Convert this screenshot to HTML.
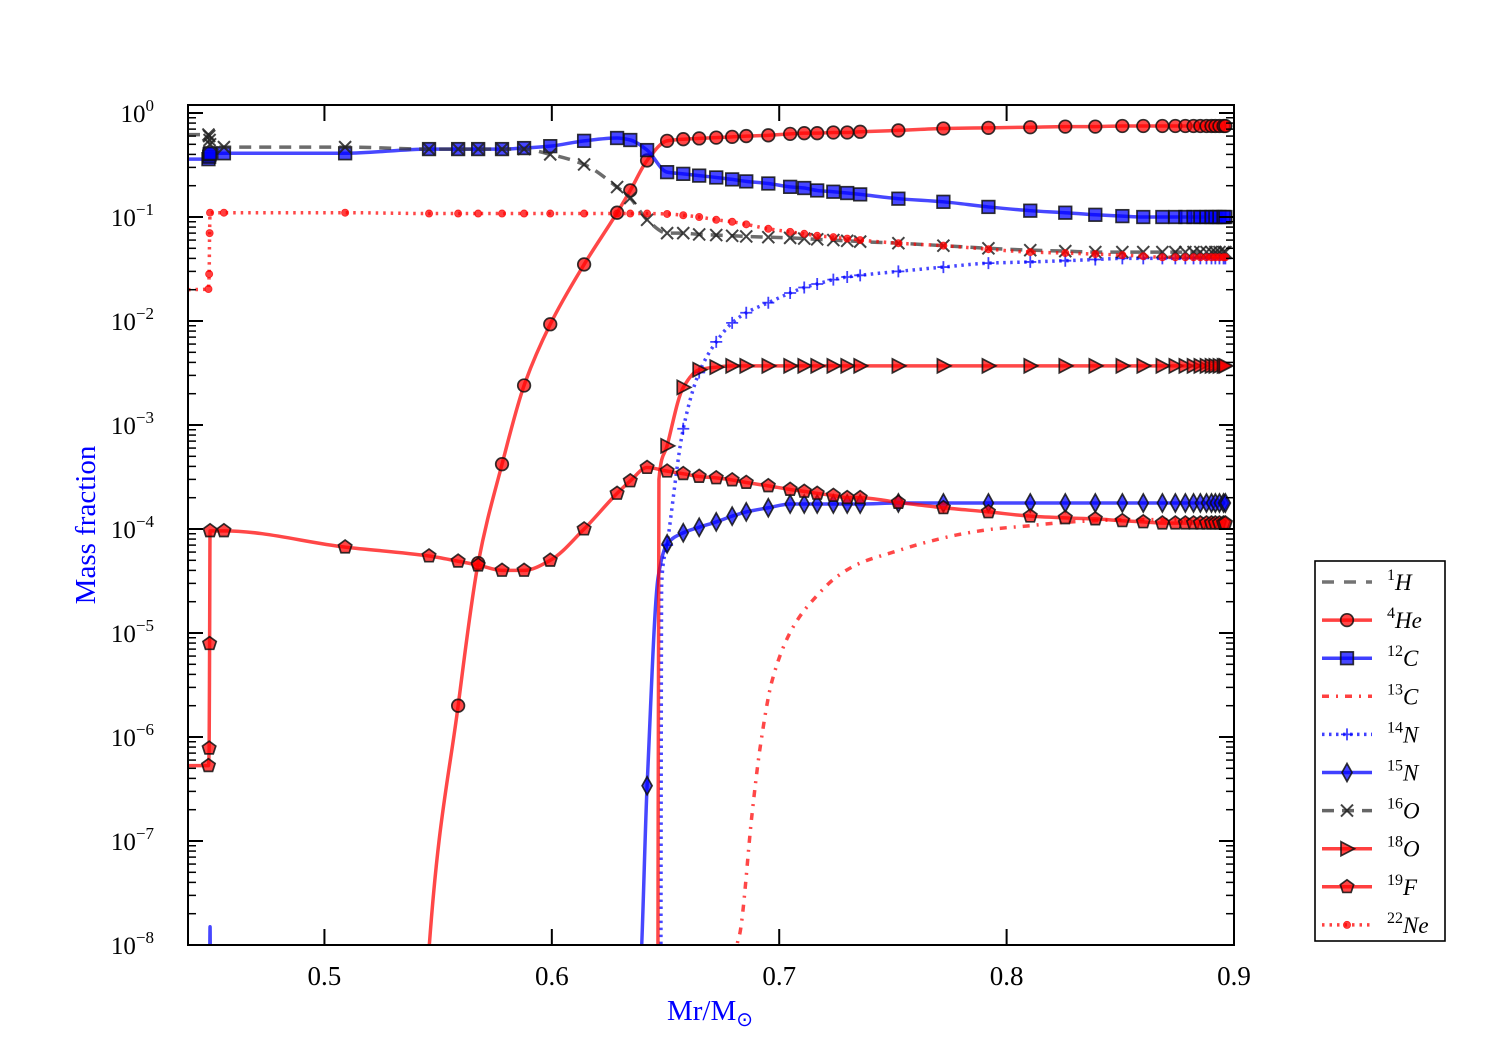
<!DOCTYPE html>
<html><head><meta charset="utf-8"><style>
html,body{margin:0;padding:0;background:#fff;}
svg{display:block;font-family:"Liberation Serif",serif;}
</style></head><body>
<svg id="chart" width="1500" height="1050" viewBox="0 0 1500 1050" xmlns="http://www.w3.org/2000/svg">
<defs><clipPath id="plotclip"><rect x="188" y="105" width="1046" height="840"/></clipPath></defs>
<rect x="0" y="0" width="1500" height="1050" fill="#fff"/>
<g id="series" clip-path="url(#plotclip)"></g>
<g id="axes"></g>
<text x="95" y="525" font-size="29" fill="#0000ff" text-anchor="middle" transform="rotate(-90 95 525)">Mass fraction</text>
<text x="710" y="1020" font-size="29" fill="#0000ff" text-anchor="middle">Mr/M<tspan font-size="20" dy="6">⊙</tspan></text>
<g id="legend"></g>
</svg>
<script>
// ---- data ----
const mr = [0.4490,0.4493,0.4495,0.4497,0.4558,0.5091,0.5460,0.5588,0.5676,0.5781,0.5878,0.5993,0.6142,0.6287,0.6345,0.6419,0.6507,0.6578,0.6648,0.6723,0.6793,0.6855,0.6952,0.7048,0.7110,0.7167,0.7238,0.7299,0.7356,0.7524,0.7722,0.7920,0.8104,0.8258,0.8390,0.8509,0.8601,0.8685,0.8742,0.8786,0.8822,0.8852,0.8879,0.8901,0.8918,0.8936,0.8954,0.8962];
const n = null;
const he4 = [n,n,n,n,n,n,n,2.0e-6,4.7e-5,4.2e-4,2.4e-3,9.3e-3,0.035,0.11,0.18,0.35,0.54,0.56,0.57,0.58,0.59,0.60,0.61,0.63,0.64,0.64,0.65,0.65,0.66,0.68,0.71,0.72,0.73,0.74,0.74,0.75,0.75,0.75,0.75,0.75,0.75,0.75,0.75,0.75,0.75,0.75,0.75,0.75];
const c12 = [0.36,0.38,0.40,0.41,0.41,0.41,0.45,0.45,0.45,0.45,0.46,0.48,0.54,0.575,0.55,0.44,0.27,0.26,0.25,0.24,0.23,0.22,0.21,0.195,0.19,0.18,0.175,0.17,0.165,0.15,0.14,0.125,0.115,0.11,0.105,0.102,0.10,0.10,0.10,0.10,0.10,0.10,0.10,0.10,0.10,0.10,0.10,0.10];
const n14 = [n,n,n,n,n,n,n,n,n,n,n,n,n,n,n,n,7e-5,9.2e-4,3.2e-3,6.3e-3,9.6e-3,0.012,0.015,0.0186,0.021,0.0227,0.025,0.0265,0.0275,0.030,0.033,0.036,0.037,0.038,0.039,0.040,0.040,0.040,0.040,0.040,0.040,0.040,0.040,0.040,0.040,0.040,0.040,0.040];
const n15 = [n,n,n,n,n,n,n,n,n,n,n,n,n,n,n,3.4e-7,7.2e-5,9.2e-5,1.04e-4,1.17e-4,1.33e-4,1.46e-4,1.6e-4,1.74e-4,1.74e-4,1.74e-4,1.74e-4,1.74e-4,1.74e-4,1.78e-4,1.78e-4,1.78e-4,1.78e-4,1.78e-4,1.78e-4,1.78e-4,1.78e-4,1.78e-4,1.78e-4,1.78e-4,1.78e-4,1.78e-4,1.78e-4,1.78e-4,1.78e-4,1.78e-4,1.78e-4,1.78e-4];
const o16 = [0.62,0.60,0.55,0.50,0.47,0.47,0.45,0.45,0.45,0.45,0.45,0.40,0.32,0.194,0.152,0.094,0.070,0.070,0.068,0.067,0.066,0.065,0.064,0.063,0.062,0.061,0.060,0.059,0.058,0.056,0.053,0.050,0.048,0.047,0.046,0.046,0.046,0.046,0.046,0.046,0.046,0.046,0.046,0.046,0.046,0.046,0.046,0.046];
const o18 = [n,n,n,n,n,n,n,n,n,n,n,n,n,n,n,n,6.3e-4,2.3e-3,3.4e-3,3.6e-3,3.7e-3,3.7e-3,3.7e-3,3.7e-3,3.7e-3,3.7e-3,3.7e-3,3.7e-3,3.7e-3,3.7e-3,3.7e-3,3.7e-3,3.7e-3,3.7e-3,3.7e-3,3.7e-3,3.7e-3,3.7e-3,3.7e-3,3.7e-3,3.7e-3,3.7e-3,3.7e-3,3.7e-3,3.7e-3,3.7e-3,3.7e-3,3.7e-3];
const f19 = [5.3e-7,7.8e-7,7.9e-6,9.6e-5,9.6e-5,6.7e-5,5.5e-5,4.9e-5,4.5e-5,4.0e-5,4.0e-5,5.0e-5,1.0e-4,2.2e-4,2.9e-4,3.9e-4,3.6e-4,3.4e-4,3.2e-4,3.1e-4,2.96e-4,2.8e-4,2.6e-4,2.4e-4,2.3e-4,2.2e-4,2.1e-4,2.0e-4,2.0e-4,1.8e-4,1.6e-4,1.46e-4,1.33e-4,1.28e-4,1.25e-4,1.2e-4,1.17e-4,1.14e-4,1.14e-4,1.14e-4,1.14e-4,1.14e-4,1.14e-4,1.14e-4,1.14e-4,1.14e-4,1.14e-4,1.14e-4];
const ne22 = [0.0203,0.0283,0.070,0.11,0.11,0.11,0.108,0.108,0.108,0.108,0.108,0.108,0.108,0.108,0.108,0.108,0.107,0.104,0.100,0.094,0.090,0.085,0.077,0.072,0.069,0.066,0.064,0.062,0.060,0.056,0.053,0.049,0.046,0.045,0.044,0.043,0.042,0.041,0.041,0.041,0.041,0.041,0.041,0.041,0.041,0.041,0.041,0.041];
// unmarked extra line points [mr, value]
const he4Extra = [[0.5440,1e-9],[0.5458,8e-9]];
const c12Extra = [[0.44,0.36]];
const o16Extra = [[0.44,0.62]];
const ne22Extra = [[0.44,0.020]];
const f19Extra = [[0.44,5.3e-7]];
const n14Extra = [[0.6479,1e-9],[0.6483,3e-5]];
const n15Extra = [[0.4494,1e-9],[0.4497,1.5e-8],[0.4500,1e-9],[0.6385,5e-9],[0.6468,3.5e-5]];
const o18Extra = [[0.6466,1e-9],[0.6471,3.0e-4]];
// 13C has no markers
const c13x = [0.6800,0.6815,0.6828,0.6881,0.6916,0.6969,0.7062,0.7167,0.7255,0.7356,0.7502,0.7651,0.7796,0.7942,0.8091,0.8236,0.8381,0.8531,0.8962];
const c13y = [1e-9,1e-8,1.33e-8,1.86e-7,7.9e-7,3.5e-6,1.15e-5,2.3e-5,3.5e-5,4.7e-5,6.0e-5,7.5e-5,8.9e-5,1.0e-4,1.07e-4,1.15e-4,1.2e-4,1.23e-4,1.23e-4];
const xTicks = [0.5,0.6,0.7,0.8,0.9];
const xTickLabels = ["0.5","0.6","0.7","0.8","0.9"];
const yDecades = [0,-1,-2,-3,-4,-5,-6,-7,-8];
const yTickLabels = ["0","−1","−2","−3","−4","−5","−6","−7","−8"];

// ---- axes functions ----
const X0=188,X1=1234,Y0=105,Y1=945;
const xMin=0.44,xMax=0.9,yMin=-8,yMax=0.077;
function sx(v){return X0+(v-xMin)/(xMax-xMin)*(X1-X0);}
function sy(v){return Y1-(Math.log10(v)-yMin)/(yMax-yMin)*(Y1-Y0);}
const NS="http://www.w3.org/2000/svg";
function mk(tag,attrs,parent){const e=document.createElementNS(NS,tag);for(const k in attrs)e.setAttribute(k,attrs[k]);if(parent)parent.appendChild(e);return e;}

function monoPath(pts){
  const N=pts.length; if(N<2) return "";
  const d=[],m=new Array(N);
  for(let i=0;i<N-1;i++){const dx=pts[i+1][0]-pts[i][0];d.push((pts[i+1][1]-pts[i][1])/dx);}
  m[0]=d[0];m[N-1]=d[N-2];
  for(let i=1;i<N-1;i++){ if(d[i-1]*d[i]<=0) m[i]=0; else { const h0=pts[i][0]-pts[i-1][0],h1=pts[i+1][0]-pts[i][0]; const w1=2*h1+h0,w2=h1+2*h0; m[i]=(w1+w2)/(w1/d[i-1]+w2/d[i]); } }
  let s="M"+pts[0][0].toFixed(2)+","+pts[0][1].toFixed(2);
  for(let i=0;i<N-1;i++){const h=pts[i+1][0]-pts[i][0];
    s+=" C"+(pts[i][0]+h/3).toFixed(2)+","+(pts[i][1]+m[i]*h/3).toFixed(2)+" "+(pts[i+1][0]-h/3).toFixed(2)+","+(pts[i+1][1]-m[i+1]*h/3).toFixed(2)+" "+pts[i+1][0].toFixed(2)+","+pts[i+1][1].toFixed(2);}
  return s;
}

const RED="#ff0000",BLUE="#0000ff",GRAY="#333333";
function marker(g,type,x,y,color){
  let e;
  const st={fill:color,"fill-opacity":0.72,stroke:"#111","stroke-opacity":0.85,"stroke-width":1.7,"stroke-linejoin":"miter"};
  if(type==="circle"){e=mk("circle",Object.assign({cx:x,cy:y,r:6.3},st),g);}
  else if(type==="square"){e=mk("rect",Object.assign({x:x-6.3,y:y-6.3,width:12.6,height:12.6},st),g);}
  else if(type==="diamond"){e=mk("polygon",Object.assign({points:`${x},${y-9} ${x+5},${y} ${x},${y+9} ${x-5},${y}`},st),g);}
  else if(type==="tri"){e=mk("polygon",Object.assign({points:`${x-6},${y-7} ${x+7.5},${y} ${x-6},${y+7}`},st),g);}
  else if(type==="pent"){let p=[];for(let k=0;k<5;k++){const a=-Math.PI/2+k*2*Math.PI/5;p.push((x+7*Math.cos(a)).toFixed(2)+","+(y+7*Math.sin(a)).toFixed(2));}e=mk("polygon",Object.assign({points:p.join(" ")},st),g);}
  else if(type==="plus"){e=mk("path",{d:`M${x-6},${y}H${x+6}M${x},${y-6}V${y+6}`,stroke:color,"stroke-opacity":0.75,"stroke-width":1.8,fill:"none"},g);}
  else if(type==="cross"){e=mk("path",{d:`M${x-6},${y-6}L${x+6},${y+6}M${x-6},${y+6}L${x+6},${y-6}`,stroke:"#222","stroke-opacity":0.85,"stroke-width":2,fill:"none"},g);}
  else if(type==="dot"){e=mk("circle",{cx:x,cy:y,r:3.6,fill:color,"fill-opacity":0.75,stroke:color,"stroke-opacity":0.75,"stroke-width":0.8},g);}
  
  
  return e;
}

const seriesDefs=[
 {id:"he4",vals:he4,extra:he4Extra,color:RED,dash:null,m:"circle"},
 {id:"c12",vals:c12,extra:c12Extra,color:BLUE,dash:null,m:"square"},
 {id:"c13",c13:true,color:RED,dash:"7,7,2,7",m:null},
 {id:"n14",vals:n14,extra:n14Extra,color:BLUE,dash:"2.5,4.5",m:"plus"},
 {id:"n15",vals:n15,extra:n15Extra,color:BLUE,dash:null,m:"diamond"},
 {id:"o16",vals:o16,extra:o16Extra,color:GRAY,dash:"12,8",m:"cross"},
 {id:"o18",vals:o18,extra:o18Extra,color:RED,dash:null,m:"tri"},
 {id:"f19",vals:f19,extra:f19Extra,color:RED,dash:null,m:"pent"},
 {id:"ne22",vals:ne22,extra:ne22Extra,color:RED,dash:"2.5,5",m:"dot"}
];
const sg=document.getElementById("series");
seriesDefs.forEach(s=>{
  const g=mk("g",{},sg);
  
  
  let raw=[],mpts=[];
  if(s.c13){for(let i=0;i<c13x.length;i++)raw.push([c13x[i],c13y[i]]);}
  else{
    for(let i=0;i<mr.length;i++){if(s.vals[i]!=null){raw.push([mr[i],s.vals[i]]);mpts.push([mr[i],s.vals[i]]);}}
    s.extra.forEach(p=>raw.push(p));
  }
  raw.sort((a,b)=>a[0]-b[0]);
  const pts=raw.map(p=>[sx(p[0]),sy(p[1])]);
  const line=mk("path",{d:monoPath(pts),fill:"none",stroke:s.color,"stroke-opacity":0.72,"stroke-width":3.5,"stroke-linecap":"butt","stroke-linejoin":"round"},g);
  if(s.dash)line.setAttribute("stroke-dasharray",s.dash);
  
  
  if(s.m){mpts.forEach(p=>marker(g,s.m,sx(p[0]),sy(p[1]),s.color));}
});

// ---- axes ----
const ax=document.getElementById("axes");
const frame=mk("rect",{x:X0,y:Y0,width:X1-X0,height:Y1-Y0,fill:"none",stroke:"#000","stroke-width":2},ax);


xTicks.forEach((v,i)=>{
  const x=sx(v);
  mk("line",{x1:x,y1:Y1,x2:x,y2:Y1-16,stroke:"#000","stroke-width":2},ax);
  mk("line",{x1:x,y1:Y0,x2:x,y2:Y0+16,stroke:"#000","stroke-width":2},ax);
  const t=mk("text",{x:x,y:985,"font-size":27,"text-anchor":"middle",fill:"#000"},ax);
  t.textContent=xTickLabels[i];
  
  
});
yDecades.forEach((d,i)=>{
  const y=sy(Math.pow(10,d));
  mk("line",{x1:X0,y1:y,x2:X0+15,y2:y,stroke:"#000","stroke-width":2},ax);
  mk("line",{x1:X1,y1:y,x2:X1-15,y2:y,stroke:"#000","stroke-width":2},ax);
  if(d<0){for(let k=2;k<=9;k++){const yy=sy(k*Math.pow(10,d));
    mk("line",{x1:X0,y1:yy,x2:X0+8,y2:yy,stroke:"#000","stroke-width":1.5},ax);
    mk("line",{x1:X1,y1:yy,x2:X1-8,y2:yy,stroke:"#000","stroke-width":1.5},ax);}}
  const t=mk("text",{x:154,y:y+9,"font-size":25,"text-anchor":"end",fill:"#000"},ax);
  t.innerHTML='10<tspan font-size="17" dy="-11">'+yTickLabels[i]+'</tspan>';
  
  
});

// ---- legend ----
const lg=document.getElementById("legend");
const box=mk("rect",{x:1315,y:561,width:130,height:380,fill:"#fff",stroke:"#000","stroke-width":1.6},lg);


const legItems=[
 {num:"1",el:"H",color:"#444",dash:"12,10",m:null},
 {num:"4",el:"He",color:RED,dash:null,m:"circle"},
 {num:"12",el:"C",color:BLUE,dash:null,m:"square"},
 {num:"13",el:"C",color:RED,dash:"7,7,2,7",m:null},
 {num:"14",el:"N",color:BLUE,dash:"2.5,4.5",m:"plus"},
 {num:"15",el:"N",color:BLUE,dash:null,m:"diamond"},
 {num:"16",el:"O",color:GRAY,dash:"12,8",m:"cross"},
 {num:"18",el:"O",color:RED,dash:null,m:"tri"},
 {num:"19",el:"F",color:RED,dash:null,m:"pent"},
 {num:"22",el:"Ne",color:RED,dash:"2.5,5",m:"dot"}
];
legItems.forEach((it,i)=>{
  const y=582+i*38.1;
  const g=mk("g",{},lg);
  
  
  const l=mk("line",{x1:1322,y1:y,x2:1372,y2:y,stroke:it.color,"stroke-opacity":0.75,"stroke-width":3.5},g);
  if(it.dash)l.setAttribute("stroke-dasharray",it.dash);
  if(it.m)marker(g,it.m,1347,y,it.color);
  const t=mk("text",{x:1387,y:y+8,"font-size":23,fill:"#000"},g);
  t.innerHTML='<tspan font-size="16" dy="-10">'+it.num+'</tspan><tspan dy="10" font-style="italic">'+it.el+'</tspan>';
});
</script>
</body></html>
